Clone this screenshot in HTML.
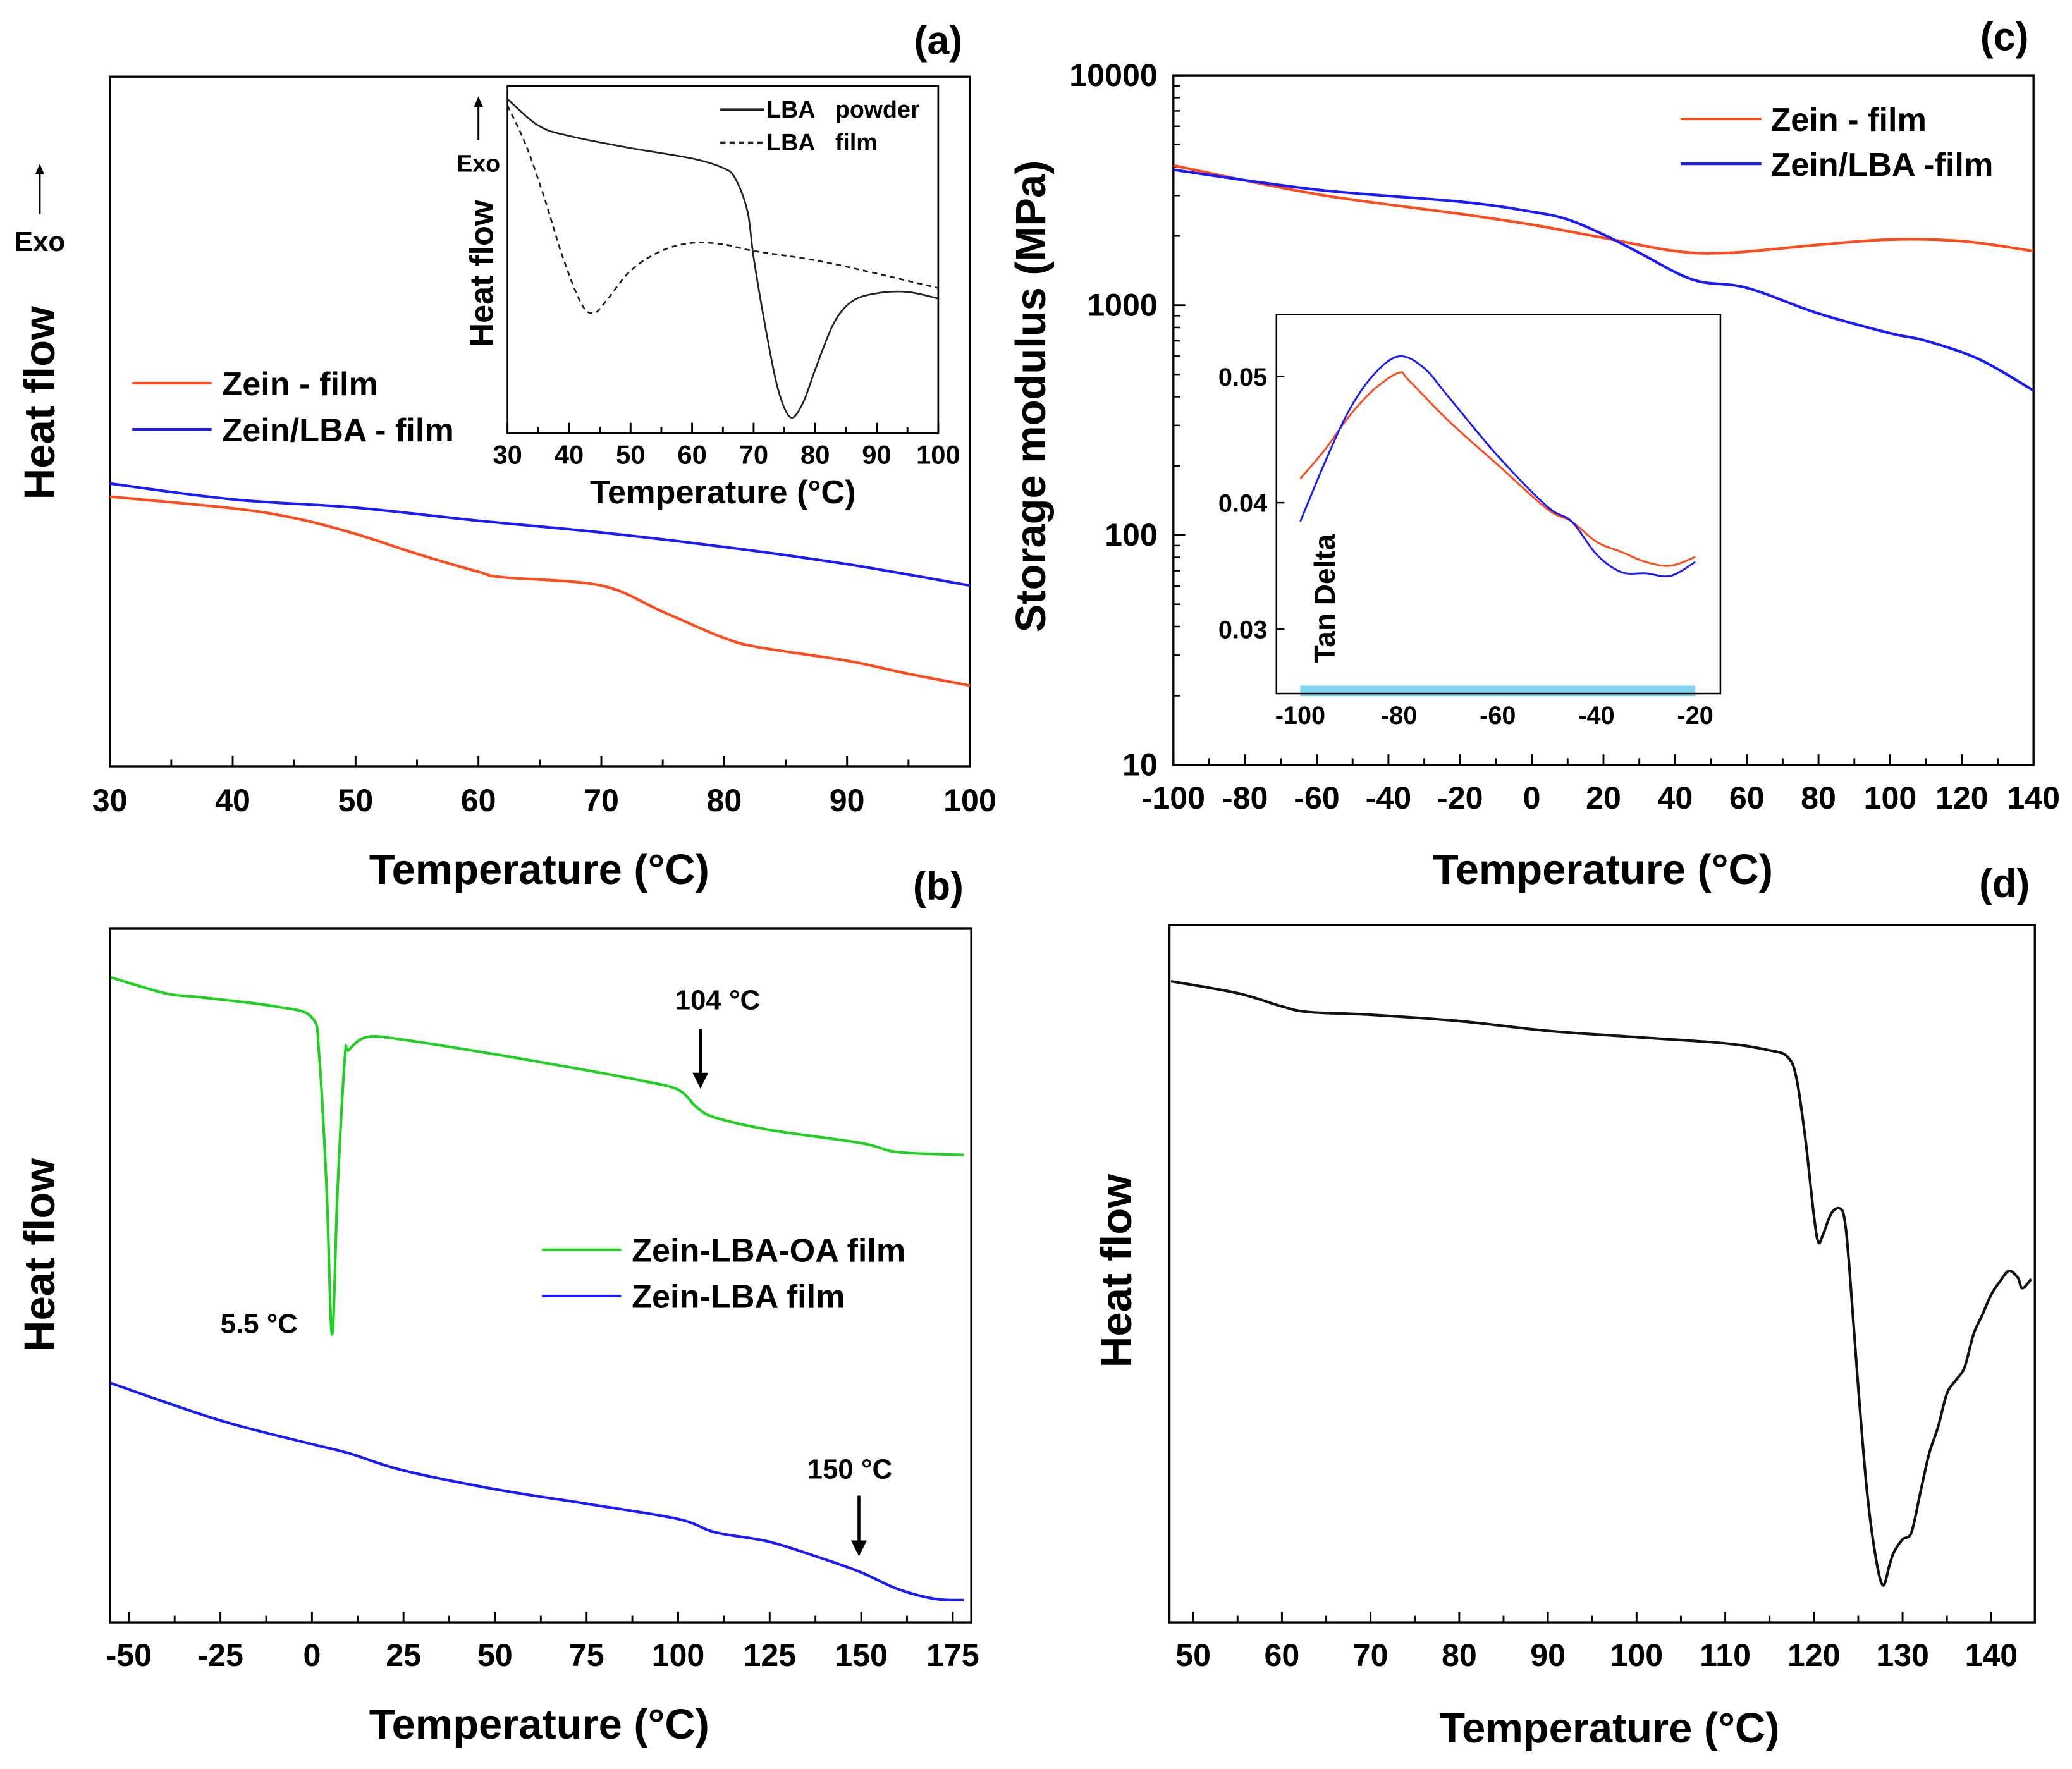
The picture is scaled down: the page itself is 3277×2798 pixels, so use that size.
<!DOCTYPE html>
<html><head><meta charset="utf-8">
<style>
html,body{margin:0;padding:0;background:#fff;}
svg{display:block;}
text{font-family:"Liberation Sans",Arial,sans-serif;font-weight:bold;fill:#000;}
</style></head>
<body>
<svg id="fig" xmlns="http://www.w3.org/2000/svg" width="3277" height="2798" viewBox="0 0 1568 1339">
<rect x="0" y="0" width="1568" height="1339" fill="#fff"/>
<g id="root"></g>
</svg>
<script>
// ---- Panel (a) data ----
const aTemp = [30,40,50,60,70,80,90,100];
const aBlue = [41.0,38.7,37.5,35.6,33.9,31.8,29.3,26.2];
const aRedTemp = [30,40,45,50,55,60,62,70,75,80,83,90,95,100];
const aRed = [39.1,37.4,36.0,33.7,30.8,28.2,27.4,26.2,22.4,18.6,17.2,15.3,13.4,11.7];
const aTicks = [30,40,50,60,70,80,90,100];
// inset (a)
const iPowderT = [30,35,40,50,60,65,67,69,70,72,74,76,78,80,83,86,90,95,100];
const iPowder = [96.2,88.6,85.6,82.1,79.1,76.4,73.4,63.9,50.6,29.7,12.5,4.6,8.7,18.3,31.6,38.0,40.3,40.7,38.8];
const iFilmT = [30,33,36,39,42,44,46,50,55,60,65,70,80,90,100];
const iFilm = [94.3,82.9,67.7,50.6,37.3,34.6,38.0,46.8,52.5,54.8,54.4,52.5,49.8,46.0,41.8];
// ---- Panel (b) data ----
const bGreenT = [-55,-40,-30,-10,0,2,4,5.5,7,9,10,15,25,50,75,90,100,105,110,125,150,160,178];
const bGreen = [93.0,90.7,90.1,88.8,87.2,81.5,62.5,41.5,62.5,81.5,82.5,84.4,84.0,81.9,79.6,78.1,76.8,74.3,72.8,71.0,69.1,67.8,67.4];
const bBlueT = [-55,-25,0,10,25,50,75,100,110,125,140,150,160,170,178];
const bBlue = [34.5,29.1,25.7,24.4,21.9,19.2,17.1,14.9,13.0,11.6,9.1,7.2,4.8,3.4,3.2];
const bTicks = [-50,-25,0,25,50,75,100,125,150,175];
// ---- Panel (c) data ----
const cRedT = [-100,-60,-20,0,20,40,55,80,100,120,140];
const cRed = [4050,3040,2495,2240,1963,1720,1690,1830,1930,1900,1720];
const cBlueT = [-100,-60,-20,0,10,20,30,45,60,80,100,110,125,140];
const cBlue = [3880,3180,2820,2550,2360,2030,1690,1290,1190,920,755,700,580,425];
const cTicks = [-100,-80,-60,-40,-20,0,20,40,60,80,100,120,140];
const cYTicks = [10,100,1000,10000];
// inset (c)
const tdT = [-100,-95,-90,-85,-80,-78,-70,-60,-50,-45,-40,-35,-30,-25,-20];
const tdRed = [0.0419,0.0442,0.0469,0.0490,0.0503,0.0497,0.0465,0.0430,0.0395,0.0385,0.0369,0.0361,0.0353,0.0350,0.0357];
const tdBlueT = [-100,-95,-90,-85,-80,-75,-70,-60,-50,-45,-40,-35,-30,-25,-20];
const tdBlue = [0.0385,0.0432,0.0474,0.0502,0.0516,0.0507,0.0484,0.0437,0.0397,0.0385,0.0359,0.0345,0.0344,0.0342,0.0353];
const tdXTicks = [-100,-80,-60,-40,-20];
const tdYTicks = [0.03,0.04,0.05];
// ---- Panel (d) data ----
const dT = [47.5,55,60,63,70,80,90,100,110,115,117,118,119,120,120.5,121,122,123,123.5,124,125,126,127,127.8,128.5,129,130,131,132,133,134,135,136,137,138,139,140,141,142,143,143.5,144.5];
const dV = [91.9,90.2,88.3,87.5,87.1,86.2,84.8,83.9,83.0,82.0,81.1,78.2,69.7,58.3,54.5,55.5,58.7,59.3,57.4,50.8,33.7,18.6,9.1,5.3,8.1,10.0,11.9,12.9,18.6,24.2,28.0,32.8,34.7,36.6,41.3,44.1,47.0,48.9,50.4,49.4,47.9,49.2];
const dTicks = [50,60,70,80,90,100,110,120,130,140];

const NS = "http://www.w3.org/2000/svg";
const root = document.getElementById('root');
function mk(tag, attrs, parent, txt){
  const e = document.createElementNS(NS, tag);
  for (const k in attrs) e.setAttribute(k, attrs[k]);
  if (txt !== undefined) e.textContent = txt;
  (parent||root).appendChild(e);
  return e;
}
function lin(d0,d1,r0,r1){ return v => r0 + (v-d0)/(d1-d0)*(r1-r0); }
function logs(d0,d1,r0,r1){ return v => r0 + (Math.log10(v)-Math.log10(d0))/(Math.log10(d1)-Math.log10(d0))*(r1-r0); }
function path(xs, ys, X, Y, color, w, dash, name){
  const P = xs.map((x,i)=>[X(x),Y(ys[i])]);
  let d = 'M'+P[0][0].toFixed(2)+','+P[0][1].toFixed(2);
  for (let i=0;i<P.length-1;i++){
    const p0=P[Math.max(0,i-1)], p1=P[i], p2=P[i+1], p3=P[Math.min(P.length-1,i+2)];
    const t=0.5/3;
    const c1=[p1[0]+(p2[0]-p0[0])*t, p1[1]+(p2[1]-p0[1])*t];
    const c2=[p2[0]-(p3[0]-p1[0])*t, p2[1]-(p3[1]-p1[1])*t];
    d += 'C'+c1[0].toFixed(2)+','+c1[1].toFixed(2)+' '+c2[0].toFixed(2)+','+c2[1].toFixed(2)+' '+p2[0].toFixed(2)+','+p2[1].toFixed(2);
  }
  const p = mk('path', {d:d, fill:'none', stroke:color, 'stroke-width':w, 'stroke-linejoin':'round'});
  if (dash) p.setAttribute('stroke-dasharray', dash);
  
  
  return p;
}
function txt(x,y,s,size,anchor,name,rot){
  const t = mk('text',{x:x,y:y,'font-size':size,'text-anchor':anchor||'middle'},root,s);
  if (rot) t.setAttribute('transform','rotate(-90 '+x+' '+y+')');
  
  
  return t;
}
function box(x0,y0,x1,y1,name,w){
  const r = mk('rect',{x:x0,y:y0,width:x1-x0,height:y1-y0,fill:'none',stroke:'#000','stroke-width':w||1.6});
  
  
}
function xTicks(X, ticks, minorStep, lo, hi, yb, size, ly, name){
  for (let v = Math.ceil(lo/minorStep)*minorStep; v <= hi+1e-9; v += minorStep){
    const major = ticks.some(t=>Math.abs(t-v)<1e-6);
    const l = major ? 8 : 5;
    const tk = mk('line',{x1:X(v),x2:X(v),y1:yb,y2:yb-l,stroke:'#000','stroke-width':1.4});
    
    
  }
  ticks.forEach(t=>{ txt(X(t), ly, String(t), size, 'middle', name+'-label'); });
}
function arrowDown(x,y0,y1,name){
  const l = mk('line',{x1:x,x2:x,y1:y0,y2:y1-8,stroke:'#000','stroke-width':2.2});
  
  
  const h = mk('polygon',{points:(x-6)+','+(y1-12)+' '+(x+6)+','+(y1-12)+' '+x+','+y1,fill:'#000'});
  
  
}
function arrowUp(x,y0,y1,name){
  const l = mk('line',{x1:x,x2:x,y1:y0,y2:y1+6,stroke:'#000','stroke-width':1.4});
  
  
  const h = mk('polygon',{points:(x-3.5)+','+(y1+8)+' '+(x+3.5)+','+(y1+8)+' '+x+','+y1,fill:'#000'});
  
  
}
function legLine(x0,x1,y,color,dash,name){
  const l = mk('line',{x1:x0,x2:x1,y1:y,y2:y,stroke:color,'stroke-width':2});
  if (dash) l.setAttribute('stroke-dasharray', dash);
  
  
}
const RED='#ff4a1c', BLUE='#1a1aff', GREEN='#1fd11f';
const TS=24, TT=32, LG=25;

// ===== Panel (a) =====
{
  const X = lin(30,100,83,734), Y = lin(0,100,580,58);
  box(83,58,734,580,'panel-a-frame');
  xTicks(X,aTicks,5,30,100,580,TS,614,'panel-a-x');
  path(aTemp,aBlue,X,Y,BLUE,2,null,'zein-lba-film-line');
  path(aRedTemp,aRed,X,Y,RED,2,null,'zein-film-line');
  txt(408,669,'Temperature (°C)',TT,'middle','panel-a-x-title');
  txt(41,305,'Heat flow',33,'middle','panel-a-y-title',true);
  arrowUp(30,162,124,'panel-a-exo-arrow');
  txt(30,190,'Exo',21,'middle','panel-a-exo-label');
  txt(710,41,'(a)',30,'middle','panel-a-label');
  legLine(100,160,290,RED,null,'legend-zein-film-swatch');
  txt(168,299,'Zein - film',LG,'start','legend-zein-film');
  legLine(100,160,325,BLUE,null,'legend-zein-lba-film-swatch');
  txt(168,334,'Zein/LBA - film',LG,'start','legend-zein-lba-film');
  // inset
  const IX = lin(30,100,384,710), IY = lin(0,100,328,65);
  mk('rect',{x:384,y:65,width:326,height:263,fill:'#fff'});
  box(384,65,710,328,'inset-a-frame',1.3);
  xTicks(IX,aTicks,5,30,100,328,20,351,'inset-a-x');
  path(iPowderT,iPowder,IX,IY,'#222',1.3,null,'lba-powder-line');
  path(iFilmT,iFilm,IX,IY,'#222',1.3,'4,3','lba-film-line');
  txt(547,381,'Temperature (°C)',25,'middle','inset-a-x-title');
  txt(373,207,'Heat flow',25,'middle','inset-a-y-title',true);
  arrowUp(362,106,73,'inset-a-exo-arrow');
  txt(362,130,'Exo',18,'middle','inset-a-exo-label');
  legLine(545,578,83,'#222',null,'legend-lba-powder-swatch');
  txt(580,89,'LBA\u00a0\u00a0\u00a0powder',18,'start','legend-lba-powder');
  legLine(545,578,108,'#222','4,3','legend-lba-film-swatch');
  txt(580,114,'LBA\u00a0\u00a0\u00a0film',18,'start','legend-lba-film');
}
// ===== Panel (b) =====
{
  const X = lin(0,175,236,721), Y = lin(0,100,1228,703);
  box(83,703,735,1228,'panel-b-frame');
  xTicks(X,bTicks,12.5,-55,180,1228,TS,1261,'panel-b-x');
  path(bGreenT,bGreen,X,Y,GREEN,2,null,'zein-lba-oa-film-line');
  path(bBlueT,bBlue,X,Y,BLUE,2,null,'zein-lba-film-line-b');
  txt(408,1316,'Temperature (°C)',TT,'middle','panel-b-x-title');
  txt(41,950,'Heat flow',33,'middle','panel-b-y-title',true);
  txt(710,681,'(b)',30,'middle','panel-b-label');
  txt(543,764,'104 °C',21,'middle','annotation-104');
  arrowDown(530,779,824,'arrow-104');
  txt(196,1009,'5.5 °C',21,'middle','annotation-5-5');
  txt(643,1119,'150 °C',21,'middle','annotation-150');
  arrowDown(650,1132,1178,'arrow-150');
  legLine(410,470,946,GREEN,null,'legend-zein-lba-oa-swatch');
  txt(478,955,'Zein-LBA-OA film',LG,'start','legend-zein-lba-oa-film');
  legLine(410,470,981,BLUE,null,'legend-zein-lba-swatch');
  txt(478,990,'Zein-LBA film',LG,'start','legend-zein-lba-film-b');
}
// ===== Panel (c) =====
{
  const X = lin(-100,140,888,1539), Y = logs(10,10000,579,57);
  box(888,57,1539,579,'panel-c-frame');
  xTicks(X,cTicks,10,-100,140,579,TS,612,'panel-c-x');
  cYTicks.forEach(v=>{
    txt(876,Y(v)+8,String(v),TS,'end','panel-c-y-label');
    const t = mk('line',{x1:888,x2:897,y1:Y(v),y2:Y(v),stroke:'#000','stroke-width':1.4});
    
    
  });
  for (let dec=10; dec<10000; dec*=10){
    for (let m=2;m<10;m++){
      const t = mk('line',{x1:888,x2:893,y1:Y(dec*m),y2:Y(dec*m),stroke:'#000','stroke-width':1.2});
      
      
    }
  }
  path(cRedT,cRed,X,Y,RED,2,null,'zein-film-modulus-line');
  path(cBlueT,cBlue,X,Y,BLUE,2,null,'zein-lba-film-modulus-line');
  txt(1213,669,'Temperature (°C)',TT,'middle','panel-c-x-title');
  txt(791,300,'Storage modulus (MPa)',32,'middle','panel-c-y-title',true);
  txt(1517,38,'(c)',30,'middle','panel-c-label');
  legLine(1272,1333,90,RED,null,'legend-c-zein-film-swatch');
  txt(1340,99,'Zein - film',LG,'start','legend-c-zein-film');
  legLine(1272,1333,124,BLUE,null,'legend-c-zein-lba-swatch');
  txt(1340,133,'Zein/LBA -film',LG,'start','legend-c-zein-lba-film');
  // inset
  const IX = lin(-100,-20,984,1283), IY = lin(0.03,0.05,476,285);
  mk('rect',{x:966,y:238,width:336,height:287,fill:'#fff'});
  const band = mk('rect',{x:984,y:519,width:299,height:8,fill:'#7fd3ee'});
  
  
  box(966,238,1302,525,'inset-c-frame',1.2);
  tdXTicks.forEach(v=>txt(IX(v),548,String(v),19,'middle','inset-c-x-label'));
  tdYTicks.forEach(v=>{
    txt(959,IY(v)+7,v.toFixed(2),19,'end','inset-c-y-label');
    const t = mk('line',{x1:966,x2:972,y1:IY(v),y2:IY(v),stroke:'#000','stroke-width':1.2});
    
    
  });
  path(tdT,tdRed,IX,IY,RED,1.4,null,'zein-film-tandelta-line');
  path(tdBlueT,tdBlue,IX,IY,BLUE,1.4,null,'zein-lba-film-tandelta-line');
  txt(1010,453,'Tan Delta',22,'middle','inset-c-y-title',true);
}
// ===== Panel (d) =====
{
  const X = lin(50,140,903,1507), Y = lin(0,100,1228,700);
  box(885,700,1540,1228,'panel-d-frame');
  xTicks(X,dTicks,5,47.3,144.9,1228,TS,1261,'panel-d-x');
  path(dT,dV,X,Y,'#111',2,null,'heat-flow-line-d');
  txt(1218,1319,'Temperature (°C)',TT,'middle','panel-d-x-title');
  txt(856,962,'Heat flow',33,'middle','panel-d-y-title',true);
  txt(1517,679,'(d)',30,'middle','panel-d-label');
}
</script>
</body></html>
